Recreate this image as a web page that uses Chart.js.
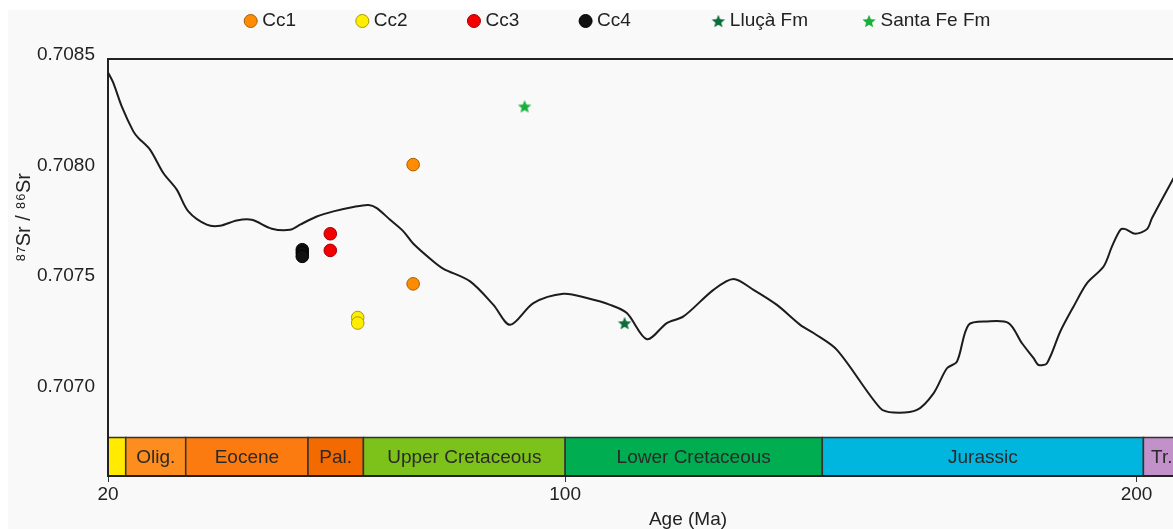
<!DOCTYPE html>
<html lang="en">
<head>
<meta charset="UTF-8">
<title>87Sr/86Sr vs age</title>
<script src="https://cdn.jsdelivr.net/npm/chart.js"></script>
<style>
  html, body { margin: 0; padding: 0; background: #fff; overflow: hidden; }
  #wrap { position: absolute; left: 8px; top: 10px; width: 1280px; height: 560px; background: #f9f9f9; }
</style>
</head>
<body>
<div id="wrap"><canvas id="chart" width="1280" height="560"></canvas></div>
<script>
// seawater Sr curve (age in Ma, 87Sr/86Sr)
const curveAge = [20.05, 20.93, 22.40, 24.43, 25.30, 27.35, 29.68, 32.03, 34.06, 37.28,
  39.61, 42.53, 45.16, 48.66, 51.86, 53.61, 56.53, 59.44, 62.94, 65.57,
  67.04, 69.37, 71.69, 73.44, 76.95, 78.70, 83.37, 87.45, 90.37, 94.45,
  99.70, 103.80, 107.88, 110.80, 114.30, 117.80, 120.71, 125.96, 129.46, 132.96,
  137.06, 141.14, 143.47, 147.56, 155.14, 157.47, 161.57, 164.47, 166.82, 168.57,
  170.60, 173.82, 177.60, 179.95, 181.98, 182.85, 184.32, 186.65, 188.98, 191.33,
  194.23, 195.70, 197.16, 198.03, 199.78, 201.83, 202.71, 206.49];
const curveSr = [0.708408, 0.708363, 0.708257, 0.708144, 0.708115, 0.708062, 0.707956, 0.707881, 0.707783, 0.707723,
  0.707718, 0.707742, 0.707745, 0.707705, 0.707700, 0.707723, 0.707760, 0.707783, 0.707803, 0.707812,
  0.707798, 0.707745, 0.707693, 0.707637, 0.707557, 0.707524, 0.707467, 0.707361, 0.707271, 0.707369,
  0.707411, 0.707392, 0.707361, 0.707324, 0.707206, 0.707279, 0.707309, 0.707429, 0.707478, 0.707429,
  0.707361, 0.707271, 0.707234, 0.707158, 0.706895, 0.706875, 0.706887, 0.706962, 0.707075, 0.707105,
  0.707271, 0.707286, 0.707279, 0.707188, 0.707121, 0.707090, 0.707098, 0.707241, 0.707354, 0.707459,
  0.707534, 0.707625, 0.707700, 0.707703, 0.707682, 0.707703, 0.707753, 0.707934];

// samples
const cc1Age = [73.4, 73.4];
const cc1Sr = [0.707994, 0.707456];
const cc2Age = [63.7, 63.7];
const cc2Sr = [0.707304, 0.707279];
const cc3Age = [58.9, 58.9];
const cc3Sr = [0.707682, 0.707607];
const cc4Age = [54.0, 54.0, 54.0];
const cc4Sr = [0.707610, 0.707596, 0.707580];
const llucaAge = [110.4];
const llucaSr = [0.707279];
const santaFeAge = [92.9];
const santaFeSr = [0.708257];

// time scale band
const periodNames = ['', 'Olig.', 'Eocene', 'Pal.', 'Upper Cretaceous', 'Lower Cretaceous', 'Jurassic', 'Tr.'];
const periodStart = [20, 23.1, 33.6, 55.0, 64.7, 100, 145, 201.2];
const periodEnd = [23.1, 33.6, 55.0, 64.7, 100, 145, 201.2, 207.6];
const periodColors = ['#ffea00', '#fd8d1f', '#fc7b10', '#f26a00', '#7dc21b', '#00ad50', '#00b6de', '#c391c9'];

const xTicks = [20, 100, 200];
const yTicks = [0.7070, 0.7075, 0.7080, 0.7085];

const FONT = '"Liberation Sans", Arial, Helvetica, sans-serif';
Chart.defaults.font.family = FONT;
Chart.defaults.color = '#222';

const pts = (xs, ys) => xs.map((x, i) => ({ x: x, y: ys[i] }));

function starImage(color, r) {
  const c = document.createElement('canvas');
  const s = Math.ceil(r * 2 + 2);
  c.width = s; c.height = s;
  const g = c.getContext('2d');
  g.translate(s / 2, s / 2 + r * 0.1);
  g.beginPath();
  for (let i = 0; i < 10; i++) {
    const rad = i % 2 ? r * 0.45 : r;
    const a = -Math.PI / 2 + i * Math.PI / 5;
    g.lineTo(rad * Math.cos(a), rad * Math.sin(a));
  }
  g.closePath();
  g.fillStyle = color;
  g.fill();
  return c;
}

// coloured geological time band along the bottom of the plot
const periodBand = {
  id: 'periodBand',
  beforeDraw(chart, args, opts) {
    const { ctx, chartArea, scales: { x } } = chart;
    const bottom = chartArea.bottom;
    const top = bottom - opts.height;
    ctx.save();
    ctx.font = '19px ' + FONT;
    ctx.textAlign = 'center';
    ctx.textBaseline = 'middle';
    periodNames.forEach((name, i) => {
      const x0 = x.getPixelForValue(periodStart[i]);
      const x1 = x.getPixelForValue(periodEnd[i]);
      ctx.fillStyle = periodColors[i];
      ctx.fillRect(x0, top, x1 - x0, opts.height);
      ctx.strokeStyle = '#333';
      ctx.lineWidth = 1.5;
      ctx.strokeRect(x0, top, x1 - x0, opts.height);
      if (name) {
        ctx.fillStyle = '#2a2a2a';
        ctx.fillText(name, (x0 + x1) / 2, (top + bottom) / 2 + 1);
      }
    });
    ctx.restore();
  }
};

// extra blank space after each legend label, to spread the entries like the original
const legendGap = [12, 12, 12, 16, 11, 7];

new Chart(document.getElementById('chart'), {
  type: 'scatter',
  data: {
    datasets: [
      { label: 'Cc1', data: pts(cc1Age, cc1Sr), backgroundColor: '#ff8c00', borderColor: '#a85c00', borderWidth: 1, pointRadius: 6.3 },
      { label: 'Cc2', data: pts(cc2Age, cc2Sr), backgroundColor: '#ffee00', borderColor: '#a89a00', borderWidth: 1, pointRadius: 6.3 },
      { label: 'Cc3', data: pts(cc3Age, cc3Sr), backgroundColor: '#f50000', borderColor: '#a00000', borderWidth: 1, pointRadius: 6.3 },
      { label: 'Cc4', data: pts(cc4Age, cc4Sr), backgroundColor: '#111111', borderColor: '#000000', borderWidth: 1, pointRadius: 6.3 },
      { label: 'Lluçà Fm', data: pts(llucaAge, llucaSr), pointStyle: starImage('#0b6e3a', 7), pointRadius: 7 },
      { label: 'Santa Fe Fm', data: pts(santaFeAge, santaFeSr), pointStyle: starImage('#17b03a', 7), pointRadius: 7 },
      { label: 'Sr curve', data: pts(curveAge, curveSr), showLine: true, borderColor: '#1c1c1c', borderWidth: 2,
        pointRadius: 0, tension: 0.3, order: 1 }
    ]
  },
  options: {
    responsive: false,
    animation: false,
    layout: { padding: { top: 0.5, left: 0, right: 20, bottom: 0 } },
    plugins: {
      tooltip: { enabled: false },
      periodBand: { height: 38.5 },
      legend: {
        position: 'top',
        align: 'center',
        labels: {
          usePointStyle: true,
          boxWidth: 4,
          boxHeight: 9.2,
          padding: 1,
          color: '#222',
          font: { size: 19 },
          generateLabels: chart => {
            const items = Chart.defaults.plugins.legend.labels.generateLabels(chart);
            return items.filter(it => it.datasetIndex < 6).map(it => {
              it.text = it.text + ' '.repeat(legendGap[it.datasetIndex]);
              return it;
            });
          }
        }
      }
    },
    scales: {
      x: {
        type: 'linear', min: 20, max: 223,
        afterBuildTicks: s => { s.ticks = xTicks.map(v => ({ value: v })); },
        afterFit: s => { s.height = 94; },
        grid: { display: true, drawOnChartArea: false, drawTicks: true, tickLength: 6, color: '#333', lineWidth: 1 },
        border: { display: true, color: '#222', width: 2 },
        ticks: { padding: 1, color: '#222', font: { size: 19 }, callback: v => v },
        title: { display: true, text: 'Age (Ma)', color: '#222', font: { size: 19 }, padding: { top: 0, bottom: 38.6 } }
      },
      x2: {
        type: 'linear', axis: 'x', position: 'top', min: 20, max: 223,
        afterFit: s => { s.height = 18.5; },
        ticks: { display: false },
        grid: { display: false, drawTicks: false },
        border: { display: true, color: '#222', width: 2 }
      },
      y: {
        type: 'linear', min: 0.7065889, max: 0.7084706,
        afterBuildTicks: s => { s.ticks = yTicks.map(v => ({ value: v })); },
        afterFit: s => { s.width = 100; },
        grid: { display: false, drawTicks: false },
        border: { display: true, color: '#222', width: 2 },
        ticks: { padding: 13, labelOffset: 2, color: '#222', font: { size: 19 }, callback: v => v.toFixed(4) },
        // leading blanks lift the rotated title above the middle of the axis, as in the original
        title: { display: true, text: ' '.repeat(18) + '⁸⁷Sr / ⁸⁶Sr', color: '#222', font: { size: 20 }, padding: { top: 4, bottom: 0 } }
      }
    }
  },
  plugins: [periodBand]
});
</script>
</body>
</html>
